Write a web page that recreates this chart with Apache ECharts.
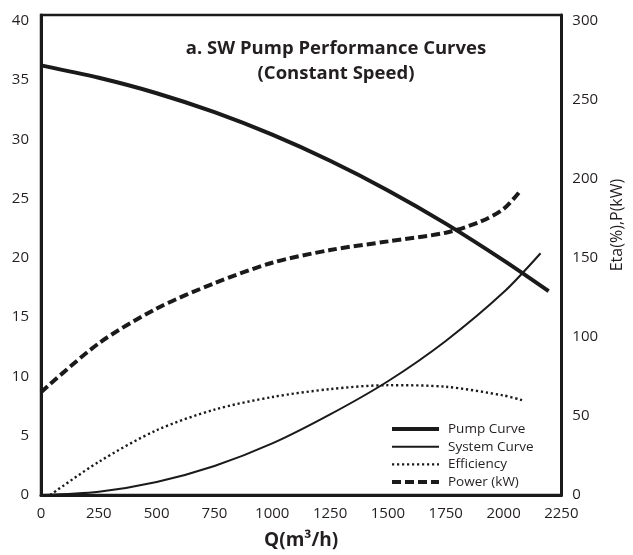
<!DOCTYPE html>
<html>
<head>
<meta charset="utf-8">
<script src="https://cdn.jsdelivr.net/npm/echarts@6/dist/echarts.min.js"></script>
<style>
  html, body { margin: 0; padding: 0; background: #fff; }
  #chart { width: 633px; height: 555px; }
</style>
</head>
<body>
<div id="chart"></div>
<script>
// flow Q (m3/h) and readings taken off the curves
const pumpQ = [0, 250, 500, 750, 1000, 1250, 1500, 1750, 2000, 2195];
const pumpHead = [36.25, 35.2, 33.9, 32.3, 30.4, 28.2, 25.7, 22.9, 19.8, 17.2];
const sysQ = [0, 250, 500, 750, 1000, 1250, 1500, 1750, 2000, 2160];
const sysHead = [0, 0.28, 1.1, 2.45, 4.35, 6.8, 9.6, 13.0, 17.1, 20.4];
const effQ = [40, 250, 500, 750, 1000, 1250, 1500, 1750, 2000, 2080];
const effVal = [0, 21, 41, 54, 62, 67, 69.5, 68.5, 63, 60];
const powQ = [0, 250, 500, 750, 1000, 1250, 1500, 1750, 1900, 2000, 2070];
const powVal = [65, 96, 118, 134, 147, 155, 160.5, 166, 173, 181, 192];

const seriesNames = ["Pump Curve", "System Curve", "Efficiency", "Power (kW)"];

const textColor = "#231f20";
const lineColor = "#1a1a1a";
const font = "'Open Sans', 'DejaVu Sans', sans-serif";

function zip(xs, ys) {
  return xs.map((x, i) => [x, ys[i]]);
}

const chart = echarts.init(document.getElementById("chart"));
chart.setOption({
  backgroundColor: "#fff",
  animation: false,
  textStyle: { fontFamily: font, color: textColor },
  title: {
    text: "a. SW Pump Performance Curves\n(Constant Speed)",
    // explicit textAlign -> text is centred on `left`
    left: 336,
    top: 36,
    padding: 0,
    textAlign: "center",
    textStyle: {
      fontFamily: font,
      fontSize: 18.5,
      fontWeight: "bold",
      color: textColor,
      lineHeight: 25
    }
  },
  legend: {
    orient: "vertical",
    left: 390,
    top: 422,
    padding: 0,
    itemWidth: 47,
    itemHeight: 14,
    itemGap: 3.7,
    data: seriesNames,
    lineStyle: { width: "inherit" },
    itemStyle: { opacity: 0 },
    textStyle: {
      fontFamily: font,
      fontSize: 13.5,
      color: textColor,
      padding: [0, 0, 0, 4]
    }
  },
  grid: {
    left: 41,
    right: 61,
    top: 15,
    bottom: 54,
    show: true,
    borderColor: lineColor,
    borderWidth: 2.5,
    backgroundColor: "transparent"
  },
  xAxis: {
    type: "value",
    min: 0,
    max: 2250,
    interval: 250,
    name: "Q(m³/h)",
    nameLocation: "middle",
    nameGap: 36,
    nameTextStyle: { fontFamily: font, fontSize: 19, fontWeight: "bold", color: textColor },
    axisLine: { show: true, lineStyle: { color: lineColor, width: 3 } },
    axisTick: { show: false },
    splitLine: { show: false },
    axisLabel: {
      fontFamily: font,
      fontSize: 15,
      color: textColor,
      margin: 11,
      formatter: (v) => String(v)
    }
  },
  yAxis: [
    {
      type: "value",
      min: 0,
      max: 40.5,
      interval: 5,
      position: "left",
      axisLine: { show: true, lineStyle: { color: lineColor, width: 3 } },
      axisTick: { show: false },
      splitLine: { show: false },
      axisLabel: { fontFamily: font, fontSize: 15, color: textColor, margin: 12, showMaxLabel: false }
    },
    {
      type: "value",
      min: 0,
      max: 303.75,
      interval: 50,
      position: "right",
      name: "Eta(%),P(kW)",
      nameLocation: "middle",
      nameRotate: 90,
      nameGap: 42,
      nameTextStyle: { fontFamily: font, fontSize: 16, color: textColor, padding: [0, 0, 0, 60] },
      axisLine: { show: true, lineStyle: { color: lineColor, width: 3 } },
      axisTick: { show: false },
      splitLine: { show: false },
      axisLabel: { fontFamily: font, fontSize: 15, color: textColor, margin: 11, showMaxLabel: false }
    }
  ],
  series: [
    {
      name: seriesNames[0],
      type: "line",
      yAxisIndex: 0,
      smooth: 0.3,
      symbol: "none",
      data: zip(pumpQ, pumpHead),
      lineStyle: { color: lineColor, width: 4 },
      itemStyle: { color: lineColor }
    },
    {
      name: seriesNames[1],
      type: "line",
      yAxisIndex: 0,
      smooth: 0.3,
      symbol: "none",
      data: zip(sysQ, sysHead),
      lineStyle: { color: lineColor, width: 2 },
      itemStyle: { color: lineColor }
    },
    {
      name: seriesNames[2],
      type: "line",
      yAxisIndex: 1,
      smooth: 0.3,
      symbol: "none",
      data: zip(effQ, effVal),
      lineStyle: { color: lineColor, width: 2.4, type: [2.2, 2.8] },
      itemStyle: { color: lineColor }
    },
    {
      name: seriesNames[3],
      type: "line",
      yAxisIndex: 1,
      smooth: 0.3,
      symbol: "none",
      data: zip(powQ, powVal),
      lineStyle: { color: lineColor, width: 4, type: [9, 4] },
      itemStyle: { color: lineColor }
    }
  ]
});
</script>
</body>
</html>
